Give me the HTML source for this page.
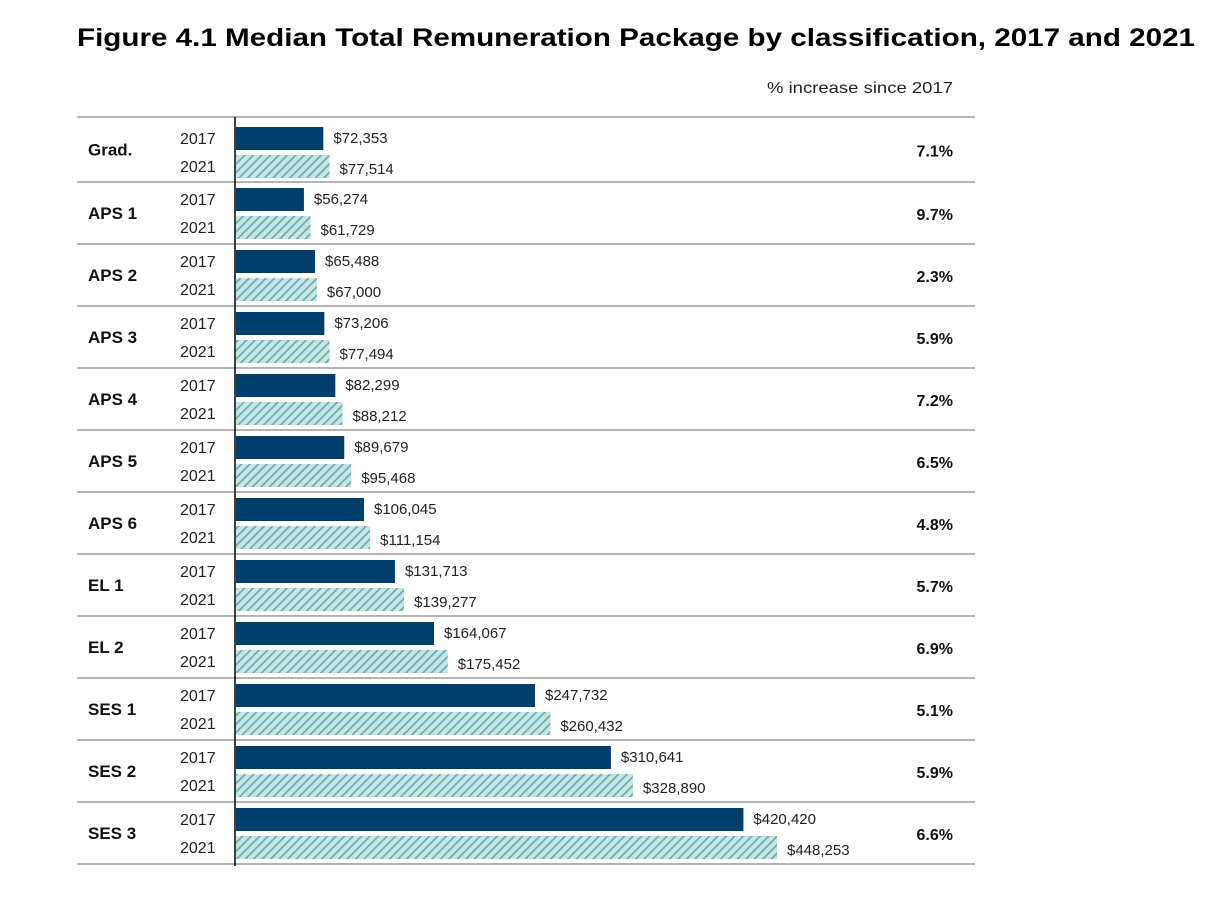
<!DOCTYPE html>
<html><head><meta charset="utf-8"><style>
html,body{margin:0;padding:0;background:#fff;}
svg{display:block;font-family:"Liberation Sans",Arial,sans-serif;}
</style></head><body>
<svg id="chart" width="1229" height="901">
<defs>
<pattern id="hatch" patternUnits="userSpaceOnUse" width="6" height="6" patternTransform="rotate(45)">
<rect width="6" height="6" fill="#c8e5e5"/>
<rect width="1.7" height="6" fill="#6aabab"/>
</pattern>
</defs>
<text x="77" y="46" font-size="25" font-weight="bold" textLength="1118" lengthAdjust="spacingAndGlyphs">Figure 4.1 Median Total Remuneration Package by classification, 2017 and 2021</text>
<text x="767" y="93" font-size="16" fill="#222" textLength="186" lengthAdjust="spacingAndGlyphs">% increase since 2017</text>
<g id="plot"></g>
</svg>
<script>
const categories = ["Grad.","APS 1","APS 2","APS 3","APS 4","APS 5","APS 6","EL 1","EL 2","SES 1","SES 2","SES 3"];
const values2017 = [72353,56274,65488,73206,82299,89679,106045,131713,164067,247732,310641,420420];
const values2021 = [77514,61729,67000,77494,88212,95468,111154,139277,175452,260432,328890,448253];
const pctLabels = ["7.1%","9.7%","2.3%","5.9%","7.2%","6.5%","4.8%","5.7%","6.9%","5.1%","5.9%","6.6%"];

const NS="http://www.w3.org/2000/svg";
const g=document.getElementById('plot');
const x0=236, scale=541/448253;
const xScale=v=>x0+v*scale;
const fmt=v=>"$"+v.toLocaleString("en-US");
function mk(tag,attrs,text){const e=document.createElementNS(NS,tag);for(const k in attrs)e.setAttribute(k,attrs[k]);if(text!==undefined)e.textContent=text;g.appendChild(e);return e;}
function groupTop(i){return i===0?117:182+(i-1)*62;}
function groupH(i){return i===0?65:62;}
for(let i=0;i<=categories.length;i++){
  const y=i===categories.length?864:groupTop(i);
  const l=mk('line',{x1:77,x2:975,y1:y,y2:y,stroke:'#888','stroke-width':1.3});
  
  
}
categories.forEach((c,i)=>{
  const t=groupTop(i), h=groupH(i);
  const off=i===0?4:0;
  const b1y=t+6+off, b2y=t+34+off, bh=23;
  const cy=t+h/2;
  const lab=mk('text',{x:88,y:cy+6,'font-size':17,'font-weight':'bold',fill:'#111'},c);
  
  
  const y1=mk('text',{x:180,y:b1y+17,'font-size':16,fill:'#222'},"2017");
  
  
  const y2=mk('text',{x:180,y:b2y+17,'font-size':16,fill:'#222'},"2021");
  
  
  const r1=mk('rect',{x:x0,y:b1y,width:xScale(values2017[i])-x0,height:bh,fill:'#003f6b'});
  
  
  const r2=mk('rect',{x:x0,y:b2y,width:xScale(values2021[i])-x0,height:bh,fill:'url(#hatch)'});
  
  
  const v1=mk('text',{x:xScale(values2017[i])+10,y:b1y+16,'font-size':15,fill:'#222'},fmt(values2017[i]));
  
  
  const v2=mk('text',{x:xScale(values2021[i])+10,y:b2y+19,'font-size':15,fill:'#222'},fmt(values2021[i]));
  
  
  const p=mk('text',{x:953,y:cy+7,'font-size':16,'font-weight':'bold','text-anchor':'end',fill:'#111'},pctLabels[i]);
  
  
});
const ax=mk('line',{x1:235,x2:235,y1:117,y2:866,stroke:'#000','stroke-width':1.5});


</script>
</body></html>
